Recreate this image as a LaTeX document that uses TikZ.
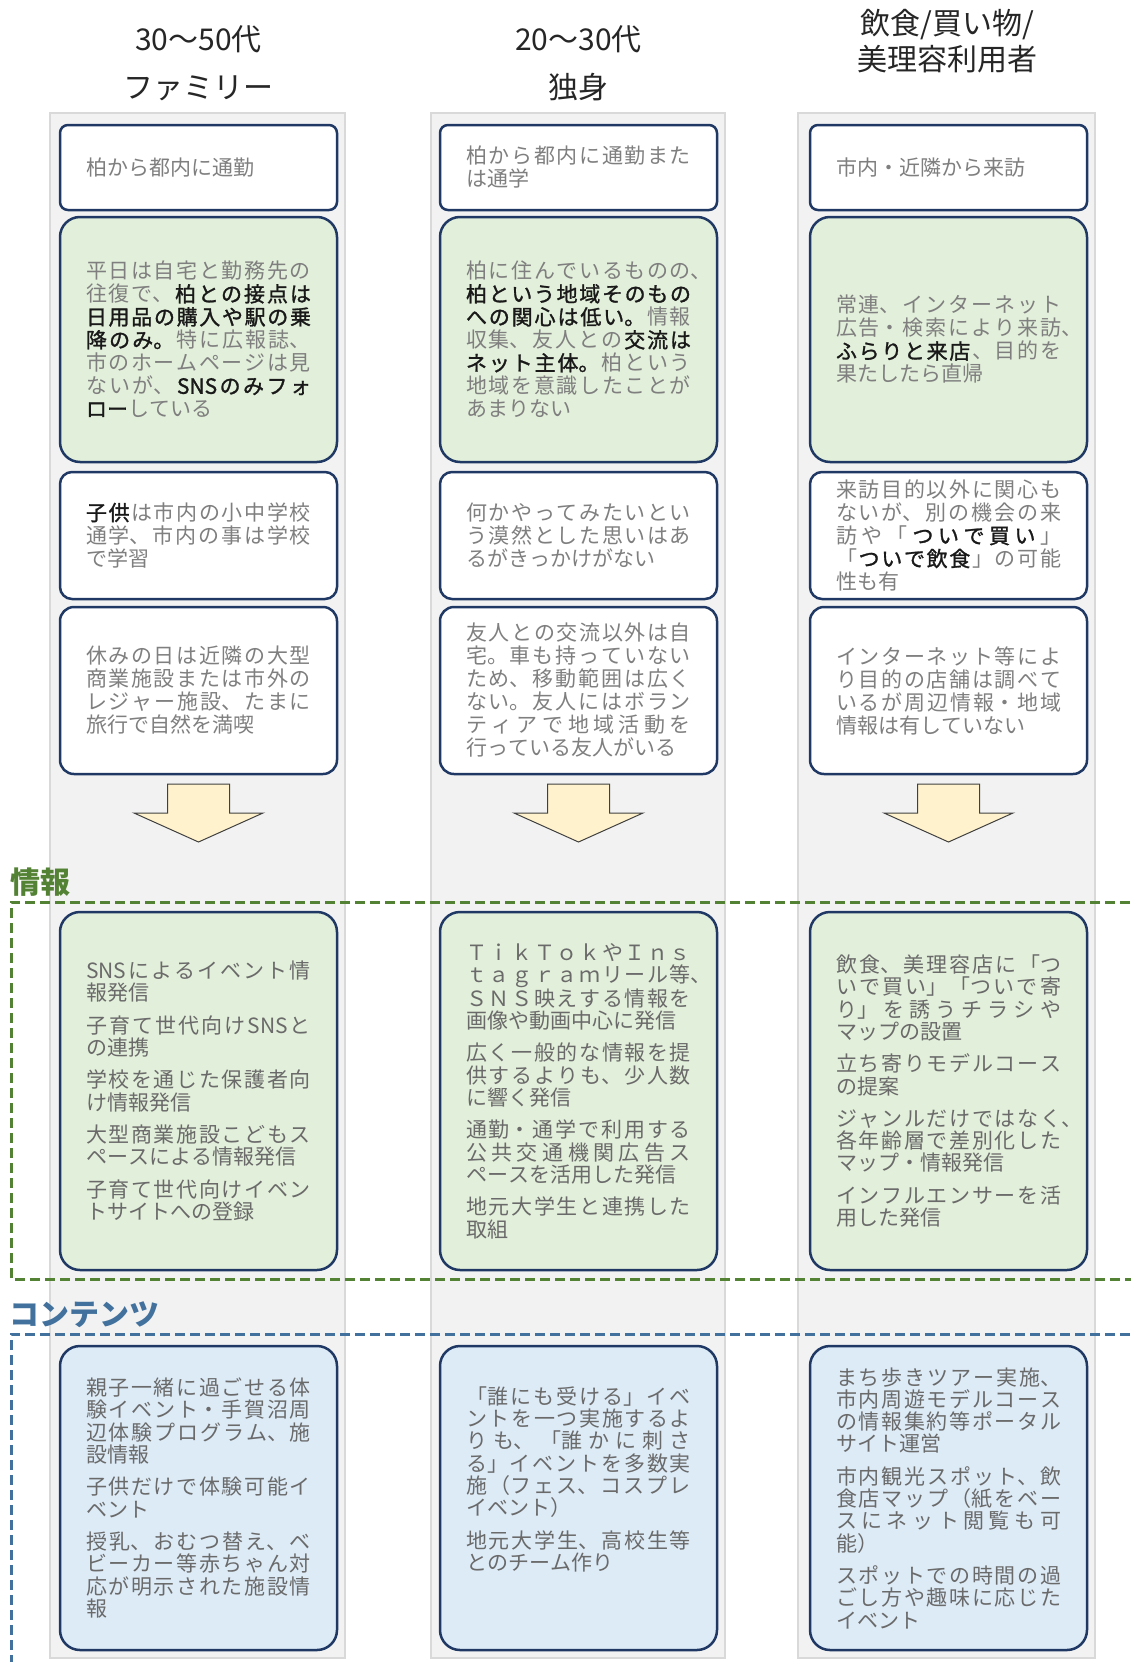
\documentclass[tikz,border=0pt]{standalone}
\usepackage{fontspec}
\setmainfont{Noto Sans CJK JP}
\newfontfamily\bfcjk[FakeBold=1.3]{Noto Sans CJK JP}
\XeTeXlinebreaklocale "ja"
\XeTeXlinebreakskip=0pt\relax
\definecolor{navy}{HTML}{1F3864}
\definecolor{txtg}{HTML}{7F7F7F}
\definecolor{txtd}{HTML}{6A6A6A}
\definecolor{grfill}{HTML}{E2EFDA}
\definecolor{blfill}{HTML}{DDEBF7}
\definecolor{colf}{HTML}{F2F2F2}
\definecolor{colb}{HTML}{D9D9D9}
\definecolor{arrf}{HTML}{FFF2CC}
\definecolor{grdash}{HTML}{548235}
\definecolor{bldash}{HTML}{41719C}
\newcommand\bodyf{\fontsize{21}{23}\selectfont}
\newcommand\lowf{\fontsize{21}{22.3}\selectfont}
\newcommand\JLn[1]{{\XeTeXlinebreakskip=0pt plus 1fil\relax\parfillskip=0pt\relax\noindent#1\par}}
\newcommand\NLn[1]{{\XeTeXlinebreakskip=0pt\relax\noindent#1\par}}
\newcommand\HLn[2]{{\XeTeXlinebreakskip=0pt plus 1fil\relax\parfillskip=0pt\relax\noindent#1\rlap{#2}\par}}
\newcommand\PGp{\vskip 10pt\relax}
\newcommand\BT[1]{{\bfcjk\color{black!90}#1}}
\tikzset{
  pbox/.style={draw=navy, line width=2.5pt, rounded corners=#1, fill=white,
    minimum width=277pt, text width=225pt, inner xsep=26pt, inner ysep=0pt,
    font=\bodyf, text=txtg},
  pbox/.default=12pt,
  gbox/.style={pbox=#1, fill=grfill},
  gbox/.default=20pt,
  ibox/.style={pbox=20pt, fill=grfill, text=txtd, font=\lowf, minimum height=358pt},
  cbox/.style={pbox=20pt, fill=blfill, text=txtd, font=\lowf, minimum height=304pt},
  colbg/.style={fill=colf, draw=colb, line width=2pt},
  ttl/.style={align=center, inner sep=0pt, text=black!85, font=\fontsize{30}{48}\selectfont},
  arrowshape/.style={fill=arrf, draw=black!75, line width=1pt},
  seclab/.style={anchor=west, inner sep=0pt, font=\fontsize{30}{30}\selectfont\bfseries},
}
\begin{document}
\begin{tikzpicture}[x=1pt,y=-1pt]
\useasboundingbox (0,0) rectangle (1131,1662);
\clip (0,0) rectangle (1131,1662);
% column backgrounds
\draw[colbg] (50,113) rectangle (345,1658);
\draw[colbg] (431,113) rectangle (725,1658);
\draw[colbg] (798,113) rectangle (1095,1658);
% section frames
\draw[draw=grdash, line width=3pt, dash pattern=on 10pt off 5pt] (1145,902) -- (11,902) -- (11,1279) -- (1145,1279);
\draw[draw=bldash, line width=3pt, dash pattern=on 10pt off 5pt] (1145,1334) -- (11,1334) -- (11,1690);
% section labels
\node[seclab, text=grdash] (lbinfo) at (10,882) {情報};
\node[seclab, text=bldash] (lbcont) at (9,1315) {コンテンツ};
% titles
\node[ttl] (t1) at (198.5,63) {30～50代\\ファミリー};
\node[ttl] (t2) at (578.5,63) {20～30代\\独身};
\node[ttl, font=\fontsize{30}{36}\selectfont] (t3) at (947,41) {飲食/買い物/\\美理容利用者};
% row 1
\node[pbox=8pt, minimum height=85pt] (a1) at (198.5,167.5) {\NLn{柏から都内に通勤}};
\node[pbox=8pt, minimum height=85pt] (b1) at (578.5,167.5) {\JLn{柏から都内に通勤また}\NLn{は通学}};
\node[pbox=8pt, minimum height=85pt] (c1) at (948.5,167.5) {\NLn{市内・近隣から来訪}};
% row 2
\node[gbox, minimum height=245pt] (a2) at (198.5,339.5) {\JLn{平日は自宅と勤務先の}\JLn{往復で、\hfil\BT{柏との接点は}}\JLn{\BT{日用品の購入や駅の乗}}\JLn{\BT{降のみ。}\hfil 特に広報誌、}\JLn{市のホームページは見}\JLn{ないが、\hfil\BT{SNSのみフォ}}\NLn{\BT{ロー}している}};
\node[gbox, minimum height=245pt] (b2) at (578.5,339.5) {\HLn{柏に住んでいるものの}{、}\JLn{\BT{柏という地域そのもの}}\JLn{\BT{への関心は低い。}\hfil 情報}\JLn{収集、友人との\hfil\BT{交流は}}\JLn{\BT{ネット主体。}\hfil 柏という}\JLn{地域を意識したことが}\NLn{あまりない}};
\node[gbox, minimum height=245pt] (c2) at (948.5,339.5) {\JLn{常連、インターネット}\HLn{広告・検索により来訪}{、}\JLn{\BT{ふらりと来店}\hfil 、目的を}\NLn{果たしたら直帰}};
% row 3
\node[pbox=12pt, minimum height=127pt] (a3) at (198.5,535.5) {\JLn{\BT{子供}\hfil は市内の小中学校}\JLn{通学、市内の事は学校}\NLn{で学習}};
\node[pbox=12pt, minimum height=127pt] (b3) at (578.5,535.5) {\JLn{何かやってみたいとい}\JLn{う漠然とした思いはあ}\NLn{るがきっかけがない}};
\node[pbox=12pt, minimum height=127pt] (c3) at (948.5,535.5) {\JLn{来訪目的以外に関心も}\JLn{ないが、別の機会の来}\JLn{訪や「\hfil\BT{ついで買い}\hfil 」}\JLn{「\hfil\BT{ついで飲食}\hfil 」の可能}\NLn{性も有}};
% row 4
\node[pbox=14pt, minimum height=167pt] (a4) at (198.5,690.5) {\JLn{休みの日は近隣の大型}\JLn{商業施設または市外の}\JLn{レジャー施設、たまに}\NLn{旅行で自然を満喫}};
\node[pbox=14pt, minimum height=167pt] (b4) at (578.5,690.5) {\JLn{友人との交流以外は自}\JLn{宅。車も持っていない}\JLn{ため、移動範囲は広く}\JLn{ない。友人にはボラン}\JLn{ティアで地域活動を}\NLn{行っている友人がいる}};
\node[pbox=14pt, minimum height=167pt] (c4) at (948.5,690.5) {\JLn{インターネット等によ}\JLn{り目的の店舗は調べて}\JLn{いるが周辺情報・地域}\NLn{情報は有していない}};
% arrows
\foreach \cx in {198.5,578.5,948.5}{
  \draw[arrowshape] (\cx-31,784) -- (\cx+31,784) -- (\cx+31,813) -- (\cx+64.5,813) -- (\cx,842) -- (\cx-64.5,813) -- (\cx-31,813) -- cycle;
}
% info row
\node[ibox] (a5) at (198.5,1091) {\JLn{SNSによるイベント情}\NLn{報発信}\PGp\JLn{子育て世代向けSNSと}\NLn{の連携}\PGp\JLn{学校を通じた保護者向}\NLn{け情報発信}\PGp\JLn{大型商業施設こどもス}\NLn{ペースによる情報発信}\PGp\JLn{子育て世代向けイベン}\NLn{トサイトへの登録}};
\node[ibox] (b5) at (578.5,1091) {\JLn{ＴｉｋＴｏｋやＩｎｓ}\HLn{ｔａｇｒａｍリール等}{、}\JLn{ＳＮＳ映えする情報を}\NLn{画像や動画中心に発信}\PGp\JLn{広く一般的な情報を提}\JLn{供するよりも、少人数}\NLn{に響く発信}\PGp\JLn{通勤・通学で利用する}\JLn{公共交通機関広告ス}\NLn{ペースを活用した発信}\PGp\JLn{地元大学生と連携した}\NLn{取組}};
\node[ibox] (c5) at (948.5,1091) {\JLn{飲食、美理容店に「つ}\JLn{いで買い」「ついで寄}\JLn{り」を誘うチラシや}\NLn{マップの設置}\PGp\JLn{立ち寄りモデルコース}\NLn{の提案}\PGp\HLn{ジャンルだけではなく}{、}\JLn{各年齢層で差別化した}\NLn{マップ・情報発信}\PGp\JLn{インフルエンサーを活}\NLn{用した発信}};
% content row
\node[cbox] (a6) at (198.5,1498) {\JLn{親子一緒に過ごせる体}\JLn{験イベント・手賀沼周}\JLn{辺体験プログラム、施}\NLn{設情報}\PGp\JLn{子供だけで体験可能イ}\NLn{ベント}\PGp\JLn{授乳、おむつ替え、ベ}\JLn{ビーカー等赤ちゃん対}\JLn{応が明示された施設情}\NLn{報}};
\node[cbox] (b6) at (578.5,1498) {\JLn{「誰にも受ける」イベ}\JLn{ントを一つ実施するよ}\JLn{りも、「誰かに刺さ}\JLn{る」イベントを多数実}\JLn{施（フェス、コスプレ}\NLn{イベント）}\PGp\JLn{地元大学生、高校生等}\NLn{とのチーム作り}\PGp\NLn{\strut}};
\node[cbox] (c6) at (948.5,1498) {\JLn{まち歩きツアー実施、}\JLn{市内周遊モデルコース}\JLn{の情報集約等ポータル}\NLn{サイト運営}\PGp\JLn{市内観光スポット、飲}\JLn{食店マップ（紙をベー}\JLn{スにネット閲覧も可}\NLn{能）}\PGp\JLn{スポットでの時間の過}\JLn{ごし方や趣味に応じた}\NLn{イベント}};
\end{tikzpicture}
\end{document}
